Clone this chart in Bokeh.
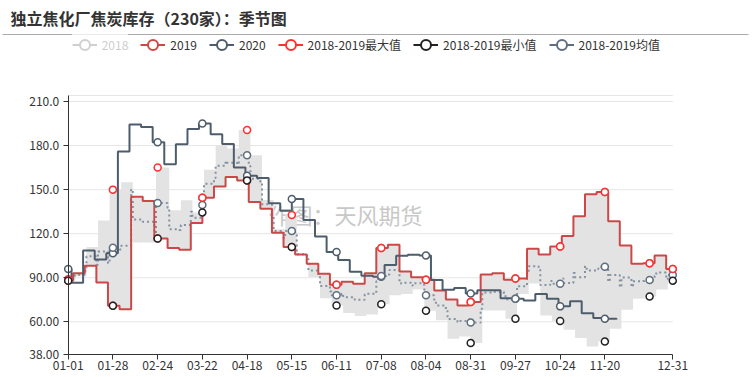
import numpy as np
import pandas as pd
from bokeh.plotting import figure
from bokeh.models import Range1d, FixedTicker, Legend, LegendItem, Label
from bokeh.embed import file_html
from bokeh.resources import INLINE

# ---------------- data ----------------
title_text = "独立焦化厂焦炭库存（230家）：季节图"
watermark_text = "作图：天风期货"

# category axis: month-day of a leap year
categories = list(pd.date_range("2020-01-01", "2020-12-31").strftime("%m-%d"))
x_tick_labels = ["01-01", "01-28", "02-24", "03-22", "04-18", "05-15", "06-11",
                 "07-08", "08-04", "08-31", "09-27", "10-24", "11-20", "12-31"]
marker_labels = ["01-01", "01-28", "02-24", "03-22", "04-18", "05-15", "06-11",
                 "07-08", "08-04", "08-31", "09-27", "10-24", "11-20", "12-17", "12-31"]
y_ticks = [38, 60, 90, 120, 150, 180, 210]
y_tick_labels = ["38.00", "60.00", "90.00", "120.0", "150.0", "180.0", "210.0"]
y_min, y_max = 38, 214.1

# weekly (Friday) release dates, plus the 01-01 opening value
dates_2018 = ["01-01"] + list(pd.date_range("2018-01-05", "2018-12-28", freq="7D").strftime("%m-%d"))
dates_2019 = ["01-01"] + list(pd.date_range("2019-01-04", "2019-12-27", freq="7D").strftime("%m-%d"))
dates_2020 = ["01-01"] + list(pd.date_range("2020-01-03", "2020-11-27", freq="7D").strftime("%m-%d"))

values_2018 = [89,
               91, 111, 129, 150, 155, 114, 114, 165,
               136, 142.7, 134.5, 163.6, 180.2, 178, 190.6, 173.4, 143, 123,
               132.7, 106, 90.5, 76, 71.1, 66, 64, 65, 72, 78,
               79, 82, 67.5, 61, 48.5, 50, 45.5, 67.7, 67.7, 62,
               79, 86, 64.3, 60.5, 54.5, 49, 43.2, 46.5, 55.2, 68.2,
               75.7, 77.2, 82, 88]
values_2019 = [88,
               93, 98.2, 86.8, 70.9, 68.6, 145.2, 142.3, 116.8,
               110.2, 109, 127.2, 144.5, 152.2, 158.6, 156.3, 141.5, 137, 120.7,
               110.9, 105.9, 99.5, 92.7, 85.2, 87.3, 85.9, 93.1, 110.2, 112.5,
               94.3, 90.4, 88.6, 81.3, 75.2, 71.1, 73.4, 92.2, 93.1, 88.6,
               89.5, 109.7, 105.9, 111.3, 118.4, 131.8, 146.8, 148.4, 128.4, 112,
               99.5, 99.8, 105.2, 95.9]
values_2020 = [96,
               86.6, 108.6, 102.5, 106.6, 175.9, 194.3, 192.7, 182.2, 167.2, 180.9,
               191.3, 195, 187.7, 181.1, 165, 159.5, 158, 140.7, 135.7, 143.6,
               129.3, 118, 107.5, 102, 94.1, 91.4, 90.7, 98.6, 105, 105.7,
               105.2, 88.4, 81.8, 83, 79.2, 81.5, 81.5, 76, 75.7, 74.5,
               79, 75.7, 70.5, 74, 65.9, 62.5, 62, 61.5]

# ---------------- derived tables ----------------
cat_index = {c: i for i, c in enumerate(categories)}
last_index = len(categories) - 1


def positions(dates):
    return np.array([cat_index[d] for d in dates], dtype=float)


def step_at(xs, ys, at):
    pos = np.searchsorted(xs, at, side="right") - 1
    return np.asarray(ys, dtype=float)[pos]


x18, y18 = positions(dates_2018), np.array(values_2018, dtype=float)
x19, y19 = positions(dates_2019), np.array(values_2019, dtype=float)
x20, y20 = positions(dates_2020), np.array(values_2020, dtype=float)

mk_x = positions(marker_labels)

grid = np.union1d(np.union1d(x18, x19), [float(last_index)])
g18 = step_at(x18, y18, grid)
g19 = step_at(x19, y19, grid)
band_max = np.maximum(g18, g19)
band_min = np.minimum(g18, g19)
band_mean = (g18 + g19) / 2.0

# ---------------- page geometry (pixels) ----------------
W, H = 755, 377
PL, PR, PT, PB = 67.7, 672.3, 95.0, 353.6      # plot area edges on the canvas
ux = last_index / (PR - PL)                      # category units per pixel
uy = (y_max - y_min) / (PB - PT)                 # value units per pixel
x_range = Range1d(0 - PL * ux, last_index + (W - PR) * ux)
y_range = Range1d(y_min - (H - PB) * uy, y_max + PT * uy)


def canvas_x(px):
    return x_range.start + px * ux


def canvas_y(py):
    return y_range.end - py * uy


FONT = "Noto Sans CJK SC"
C18 = "#444444"
C19, C20 = "#cc4848", "#4e5d6c"
CMAX, CMIN, CMEAN, CMEANL = "#ff3030", "#222222", "#5f6f7f", "#8592a0"
MK = 7
LEG_MK = 10

p = figure(width=W, height=H, output_backend="svg", toolbar_location=None,
           x_range=x_range, y_range=y_range,
           min_border_left=0, min_border_right=0, min_border_top=0, min_border_bottom=0)
p.outline_line_color = None
p.xgrid.visible = False
p.ygrid.visible = False

# axes drawn at the plot-area edges
p.xaxis.fixed_location = y_min
p.yaxis.fixed_location = 0
p.xaxis.bounds = (0, last_index)
p.yaxis.bounds = (y_min, y_max)
p.xaxis.ticker = FixedTicker(ticks=[cat_index[t] for t in x_tick_labels])
p.xaxis.major_label_overrides = {cat_index[t]: t for t in x_tick_labels}
p.yaxis.ticker = FixedTicker(ticks=y_ticks)
p.yaxis.major_label_overrides = dict(zip(y_ticks, y_tick_labels))
for ax in (p.xaxis, p.yaxis):
    ax.axis_line_color = "#333333"
    ax.major_tick_line_color = "#333333"
    ax.major_tick_out = 5
    ax.major_tick_in = 0
    ax.minor_tick_line_color = None
    ax.major_label_text_font = FONT
    ax.major_label_text_font_size = "12px"
    ax.major_label_text_color = "#333333"
p.xaxis.major_label_standoff = 2
p.yaxis.major_label_standoff = 4

# horizontal grid lines across the plot area
grid_y = y_ticks[1:] + [y_max]
p.segment(x0=[0] * len(grid_y), x1=[last_index] * len(grid_y), y0=grid_y, y1=grid_y,
          line_color="#e6e6e6", line_width=1, level="underlay")

# divider under the title
p.segment(x0=[canvas_x(2)], x1=[canvas_x(748)], y0=[canvas_y(34)], y1=[canvas_y(34)],
          line_color="#aaaaaa", line_width=1)

# watermark under the data
p.add_layout(Label(x=268, y=H - 213, x_units="screen", y_units="screen",
                   text=watermark_text, text_font=FONT, text_font_size="22px",
                   text_color="#c8c8c8", text_baseline="middle", level="underlay"))

# band between 2018-2019 min and max
p.varea_step(x=grid, y1=band_min, y2=band_max, step_mode="after",
             fill_color="#e3e3e3", fill_alpha=1.0)

# 2018 (hidden series)
r18l = p.step(x=np.append(x18, last_index), y=np.append(y18, y18[-1]), mode="after",
              line_color=C18, line_width=2)
r18l.visible = False

# mean
p.step(x=grid, y=band_mean, mode="after", line_color=CMEANL, line_width=2,
       line_dash="2 3")
# 2019
r19l = p.step(x=np.append(x19, last_index), y=np.append(y19, y19[-1]), mode="after",
              line_color=C19, line_width=2)
# 2020
r20l = p.step(x=x20, y=y20, mode="after", line_color=C20, line_width=2)

mk20 = mk_x[mk_x <= x20[-1]]
p.scatter(x=mk_x, y=step_at(x19, y19, mk_x), size=MK, marker="circle",
          fill_color="white", line_color=C19, line_width=1.5)
p.scatter(x=mk20, y=step_at(x20, y20, mk20), size=MK, marker="circle",
          fill_color="white", line_color=C20, line_width=1.5)
p.scatter(x=mk_x, y=step_at(grid, band_mean, mk_x), size=MK, marker="circle",
          fill_color="white", line_color=CMEAN, line_width=1.5)
p.scatter(x=mk_x, y=step_at(grid, band_max, mk_x), size=MK, marker="circle",
          fill_color="white", line_color=CMAX, line_width=1.5)
p.scatter(x=mk_x, y=step_at(grid, band_min, mk_x), size=MK, marker="circle",
          fill_color="white", line_color=CMIN, line_width=1.5)

# legend swatches (no visible marks in the plot: coordinates are NaN)
nan_pts = np.full(len(grid), np.nan)


def swatch(color, hidden=False):
    rl = p.line(x=grid, y=nan_pts, line_color=color, line_width=2)
    rm = p.scatter(x=grid, y=nan_pts, size=LEG_MK, marker="circle",
                   fill_color="white", line_color=color, line_width=2)
    if hidden:
        rl.visible = False
        rm.visible = False
    return [rl, rm]


legend = Legend(items=[
    LegendItem(label="2018", renderers=swatch(C18, hidden=True)),
    LegendItem(label="2019", renderers=swatch(C19)),
    LegendItem(label="2020", renderers=swatch(C20)),
    LegendItem(label="2018-2019最大值", renderers=swatch(CMAX)),
    LegendItem(label="2018-2019最小值", renderers=swatch(CMIN)),
    LegendItem(label="2018-2019均值", renderers=swatch(CMEAN)),
], location=(71.7, H - 44 - 12.5), orientation="horizontal")
legend.click_policy = "hide"
legend.label_text_font = FONT
legend.label_text_font_size = "12px"
legend.label_text_color = "#333333"
legend.glyph_width = 25
legend.glyph_height = 25
legend.label_height = 25
legend.label_standoff = 5
legend.spacing = 12
legend.padding = 0
legend.margin = 0
legend.border_line_color = None
legend.background_fill_alpha = 0
legend.inactive_fill_color = "white"
legend.inactive_fill_alpha = 0.75
p.add_layout(legend, "center")

# title
p.add_layout(Label(x=10, y=H - 17, x_units="screen", y_units="screen", text=title_text,
                   text_font=FONT, text_font_size="16px", text_font_style="bold",
                   text_color="#333333", text_baseline="middle"))

open("out.html", "w").write(file_html(p, INLINE))
